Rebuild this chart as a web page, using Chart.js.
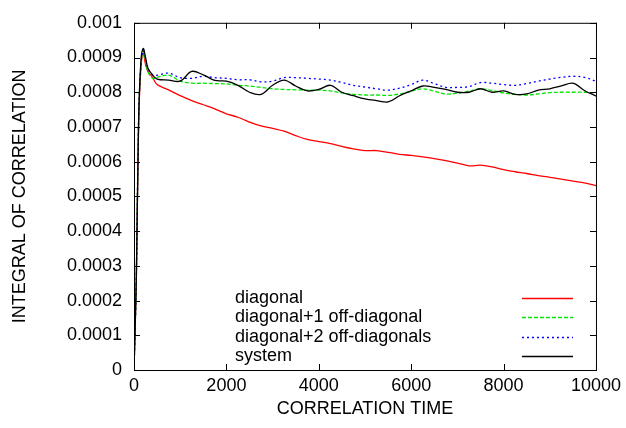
<!DOCTYPE html>
<html>
<head>
<meta charset="utf-8">
<script src="https://cdn.jsdelivr.net/npm/chart.js@4.4.1/dist/chart.umd.min.js"></script>
<style>
  body { margin: 0; background: #fff; }
  #wrap { width: 626px; height: 428px; }
</style>
</head>
<body>
<div id="wrap"><canvas id="corrChart" width="626" height="428"></canvas></div>
<script>
// temps de corrélation (axe x)
var times = [0, 50, 100, 150, 200, 250, 300, 400, 500, 750, 1000, 1250, 1500, 1750, 2000, 2250, 2500, 2750,
  3000, 3250, 3500, 3750, 4000, 4250, 4500, 4750, 5000, 5250, 5500, 5750, 6000, 6250, 6500, 6750, 7000,
  7250, 7500, 7750, 8000, 8250, 8500, 8750, 9000, 9250, 9500, 9750, 10000];

var diagonal = [0, 0.00026, 0.00071, 0.00087, 0.000912, 0.00088, 0.00086, 0.000843, 0.000822, 0.000807,
  0.00079, 0.000776, 0.000764, 0.000752, 0.000738, 0.000728, 0.000714, 0.000703, 0.000696, 0.000688,
  0.000675, 0.000664, 0.000658, 0.000652, 0.000644, 0.000637, 0.000632, 0.000632, 0.000627, 0.000621,
  0.000618, 0.000614, 0.000609, 0.000603, 0.000596, 0.000588, 0.00059, 0.000585, 0.000577, 0.000571,
  0.000566, 0.00056, 0.000555, 0.00055, 0.000544, 0.000539, 0.000531];

var diag1 = [0, 0.00026, 0.00072, 0.00088, 0.00092, 0.00089, 0.00086, 0.00084, 0.000843, 0.000849,
  0.000832, 0.000826, 0.000826, 0.000825, 0.000824, 0.00082, 0.000818, 0.000814, 0.00081, 0.000808,
  0.000807, 0.000806, 0.000806, 0.000804, 0.000798, 0.000794, 0.000792, 0.000792, 0.000791, 0.000795,
  0.000803, 0.00081, 0.000803, 0.000795, 0.000797, 0.000803, 0.00081, 0.000805, 0.000798, 0.000794,
  0.000792, 0.000795, 0.000799, 0.0008, 0.0008, 0.0008, 0.000798];

var diag2 = [0, 0.00026, 0.00072, 0.00088, 0.00092, 0.0009, 0.00087, 0.00085, 0.000849, 0.000855,
  0.000842, 0.00084, 0.000846, 0.000842, 0.00084, 0.000836, 0.000836, 0.00083, 0.000832, 0.000842,
  0.000842, 0.00084, 0.000838, 0.000835, 0.000828, 0.00082, 0.000815, 0.00081, 0.000806, 0.000812,
  0.000822, 0.000835, 0.000825, 0.000814, 0.000814, 0.000816, 0.000828, 0.000826, 0.000822, 0.00082,
  0.000825, 0.000832, 0.000838, 0.000843, 0.000846, 0.000843, 0.000832];

var systemVals = [0, 0.00026, 0.00072, 0.00089, 0.000926, 0.0009, 0.00087, 0.00085, 0.000838, 0.000835,
  0.000832, 0.00086, 0.00085, 0.000834, 0.000832, 0.00082, 0.0008, 0.000794, 0.00082, 0.000835,
  0.000818, 0.000804, 0.000808, 0.00082, 0.0008, 0.00079, 0.000781, 0.000776, 0.000772, 0.00079,
  0.000804, 0.000818, 0.000814, 0.000808, 0.0008, 0.0008, 0.00081, 0.0008, 0.000804, 0.000794,
  0.000795, 0.000806, 0.00081, 0.000818, 0.000826, 0.000805, 0.000789];

var xTicks = [0, 2000, 4000, 6000, 8000, 10000];
var yTicks = [0, 0.0001, 0.0002, 0.0003, 0.0004, 0.0005, 0.0006, 0.0007, 0.0008, 0.0009, 0.001];

var police = "'Liberation Sans', Arial, Helvetica, sans-serif";

function pts(vals) {
  return times.map(function (t, i) { return { x: t, y: vals[i] }; });
}

function serie(label, vals, color, dash, order) {
  return {
    label: label,
    data: pts(vals),
    borderColor: color,
    borderWidth: 1.3,
    borderDash: dash,
    pointRadius: 0,
    fill: false,
    tension: 0.35,
    order: order
  };
}

// cadre + graduations vers l'intérieur + légende façon gnuplot
var cadre = {
  id: "cadre",
  afterDraw: function (chart) {
    var ctx = chart.ctx;
    var a = chart.chartArea;
    var sx = chart.scales.x, sy = chart.scales.y;
    ctx.save();
    ctx.strokeStyle = "#000";
    ctx.lineWidth = 1;
    ctx.strokeRect(a.left + 0.5, a.top + 0.5, a.right - a.left, a.bottom - a.top);
    ctx.beginPath();
    xTicks.forEach(function (v) {
      var px = Math.round(sx.getPixelForValue(v)) + 0.5;
      ctx.moveTo(px, a.bottom); ctx.lineTo(px, a.bottom - 6);
      ctx.moveTo(px, a.top); ctx.lineTo(px, a.top + 6);
    });
    yTicks.forEach(function (v) {
      var py = Math.round(sy.getPixelForValue(v)) + 0.5;
      ctx.moveTo(a.left, py); ctx.lineTo(a.left + 6, py);
      ctx.moveTo(a.right, py); ctx.lineTo(a.right - 6, py);
    });
    ctx.stroke();

    // légende
    ctx.font = "18px " + police;
    ctx.fillStyle = "#000";
    ctx.textBaseline = "middle";
    ctx.textAlign = "left";
    chart.data.datasets.forEach(function (ds, i) {
      var y = a.bottom - 72 + i * 19.4;
      ctx.fillText(ds.label, a.left + 101, y);
      ctx.beginPath();
      ctx.strokeStyle = ds.borderColor;
      ctx.lineWidth = 1.3;
      ctx.setLineDash(ds.borderDash || []);
      ctx.moveTo(a.right - 74, Math.round(y) + 0.5);
      ctx.lineTo(a.right - 23, Math.round(y) + 0.5);
      ctx.stroke();
    });
    ctx.restore();
  }
};

const contexte = document.getElementById("corrChart");
const graph = new Chart(contexte, {
  type: "line",
  data: {
    datasets: [
      serie("diagonal", diagonal, "#ff0000", [], 4),
      serie("diagonal+1 off-diagonal", diag1, "#00e600", [4, 2], 3),
      serie("diagonal+2 off-diagonals", diag2, "#0000ff", [2, 3], 2),
      serie("system", systemVals, "#000000", [], 1)
    ]
  },
  options: {
    responsive: false,
    animation: false,
    layout: { padding: { left: 0, right: 30, top: 19, bottom: 0 } },
    plugins: {
      legend: { display: false },
      tooltip: { enabled: false }
    },
    scales: {
      x: {
        type: "linear",
        min: 0,
        max: 10000,
        afterBuildTicks: function (s) { s.ticks = xTicks.map(function (v) { return { value: v }; }); },
        afterFit: function (s) { s.height = 58; },
        grid: { display: false, drawTicks: false },
        border: { display: false },
        ticks: {
          color: "#000",
          font: { family: police, size: 18 },
          padding: 5,
          maxRotation: 0,
          callback: function (v) { return String(v); }
        },
        title: {
          display: true,
          text: "CORRELATION TIME",
          color: "#000",
          font: { family: police, size: 18 },
          padding: { top: 0, bottom: 8 }
        }
      },
      y: {
        min: 0,
        max: 0.001,
        afterBuildTicks: function (s) { s.ticks = yTicks.map(function (v) { return { value: v }; }); },
        afterFit: function (s) { s.width = 134; },
        grid: { display: false, drawTicks: false },
        border: { display: false },
        ticks: {
          color: "#000",
          font: { family: police, size: 18 },
          padding: 12,
          callback: function (v) { return String(Number(v.toPrecision(4))); }
        },
        title: {
          display: true,
          text: "INTEGRAL OF CORRELATION",
          color: "#000",
          font: { family: police, size: 18 },
          padding: { top: 9, bottom: 0 }
        }
      }
    }
  },
  plugins: [cadre]
});
</script>
</body>
</html>
